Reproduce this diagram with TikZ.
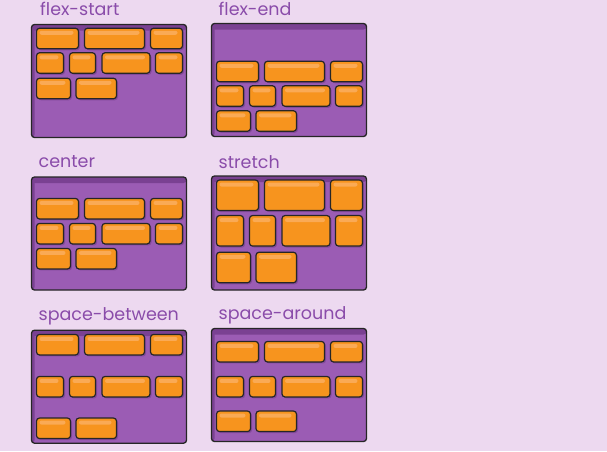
\documentclass[tikz,border=0pt]{standalone}
\usepackage{fontspec}
\setmainfont{Poppins}
\usetikzlibrary{shadows}
\definecolor{bgcol}{HTML}{EDD9F0}
\definecolor{boxcol}{HTML}{9B5CB4}
\definecolor{boxedge}{HTML}{7A4192}
\definecolor{itemcol}{HTML}{F7941E}
\definecolor{itemlight}{HTML}{FAAA55}
\definecolor{inkcol}{HTML}{262626}
\definecolor{labelcol}{HTML}{8A4CAA}
\tikzset{
	boxstyle/.style={rectangle,rounded corners=3pt,draw=inkcol,line width=1.3pt,fill=boxcol,inner sep=0pt,minimum width=155pt,minimum height=113pt,
		path picture={\fill[boxedge] (path picture bounding box.north west) rectangle ([yshift=-6pt]path picture bounding box.north east);
			\fill[boxedge] (path picture bounding box.north west) rectangle ([xshift=3pt]path picture bounding box.south west);}},
	itemstyle/.style={rectangle,rounded corners=3pt,draw=inkcol,line width=1.2pt,fill=itemcol,inner sep=0pt,minimum height=20.5pt,
		drop shadow={shadow xshift=1.5pt,shadow yshift=-1.5pt,fill=boxedge,opacity=0.7},
		path picture={\fill[itemlight,rounded corners=2pt] ([xshift=3pt,yshift=-2.5pt]path picture bounding box.north west) rectangle ([xshift=-5pt,yshift=-6.5pt]path picture bounding box.north east);}},
	tallstyle/.style={itemstyle,minimum height=30.5pt},
	labelstyle/.style={anchor=base west,text=labelcol,inner sep=0pt,font=\fontsize{17.5}{20}\selectfont}
}
\begin{document}
\begin{tikzpicture}[x=1pt,y=-1pt]
	\useasboundingbox (0,0) rectangle (607,451);
	\fill[bgcol] (0,0) rectangle (607,451);
	% flex-start
	\node[labelstyle] (fslabel) at (40,15) {flex-start};
	\node[boxstyle] (fs) at (109,81) {};
	\node[itemstyle,minimum width=42pt] (fs1) at (57.5,38.5) {};
	\node[itemstyle,minimum width=60pt] (fs2) at (114.5,38.5) {};
	\node[itemstyle,minimum width=32pt] (fs3) at (166.5,38.5) {};
	\node[itemstyle,minimum width=27pt] (fs4) at (50,63) {};
	\node[itemstyle,minimum width=26pt] (fs5) at (82.5,63) {};
	\node[itemstyle,minimum width=48pt] (fs6) at (126,63) {};
	\node[itemstyle,minimum width=27pt] (fs7) at (169,63) {};
	\node[itemstyle,minimum width=34pt] (fs8) at (53.5,88.5) {};
	\node[itemstyle,minimum width=40.5pt] (fs9) at (96.25,88.5) {};
	% flex-end
	\node[labelstyle] (felabel) at (218.5,15) {flex-end};
	\node[boxstyle] (fe) at (289,80) {};
	\node[itemstyle,minimum width=42pt] (fe1) at (237.5,71.5) {};
	\node[itemstyle,minimum width=60pt] (fe2) at (294.5,71.5) {};
	\node[itemstyle,minimum width=32pt] (fe3) at (346.5,71.5) {};
	\node[itemstyle,minimum width=27pt] (fe4) at (230,96) {};
	\node[itemstyle,minimum width=26pt] (fe5) at (262.5,96) {};
	\node[itemstyle,minimum width=48pt] (fe6) at (306,96) {};
	\node[itemstyle,minimum width=27pt] (fe7) at (349,96) {};
	\node[itemstyle,minimum width=34pt] (fe8) at (233.5,121) {};
	\node[itemstyle,minimum width=40.5pt] (fe9) at (276.25,121) {};
	% center
	\node[labelstyle] (celabel) at (38.5,167.5) {center};
	\node[boxstyle] (ce) at (109,233.5) {};
	\node[itemstyle,minimum width=42pt] (ce1) at (57.5,208.7) {};
	\node[itemstyle,minimum width=60pt] (ce2) at (114.5,208.7) {};
	\node[itemstyle,minimum width=32pt] (ce3) at (166.5,208.7) {};
	\node[itemstyle,minimum width=27pt] (ce4) at (50,233.7) {};
	\node[itemstyle,minimum width=26pt] (ce5) at (82.5,233.7) {};
	\node[itemstyle,minimum width=48pt] (ce6) at (126,233.7) {};
	\node[itemstyle,minimum width=27pt] (ce7) at (169,233.7) {};
	\node[itemstyle,minimum width=34pt] (ce8) at (53.5,258.7) {};
	\node[itemstyle,minimum width=40.5pt] (ce9) at (96.25,258.7) {};
	% stretch
	\node[labelstyle] (stlabel) at (218.5,168) {stretch};
	\node[boxstyle,minimum height=114pt] (st) at (289,233) {};
	\node[tallstyle,minimum width=42pt] (st1) at (237.5,195.3) {};
	\node[tallstyle,minimum width=60pt] (st2) at (294.5,195.3) {};
	\node[tallstyle,minimum width=32pt] (st3) at (346.5,195.3) {};
	\node[tallstyle,minimum width=27pt] (st4) at (230,230.8) {};
	\node[tallstyle,minimum width=26pt] (st5) at (262.5,230.8) {};
	\node[tallstyle,minimum width=48pt] (st6) at (306,230.8) {};
	\node[tallstyle,minimum width=27pt] (st7) at (349,230.8) {};
	\node[tallstyle,minimum width=34pt] (st8) at (233.5,267.5) {};
	\node[tallstyle,minimum width=40.5pt] (st9) at (276.25,267.5) {};
	% space-between
	\node[labelstyle] (sblabel) at (38.5,320) {space-between};
	\node[boxstyle] (sb) at (109,386.7) {};
	\node[itemstyle,minimum width=42pt] (sb1) at (57.5,344.7) {};
	\node[itemstyle,minimum width=60pt] (sb2) at (114.5,344.7) {};
	\node[itemstyle,minimum width=32pt] (sb3) at (166.5,344.7) {};
	\node[itemstyle,minimum width=27pt] (sb4) at (50,386.7) {};
	\node[itemstyle,minimum width=26pt] (sb5) at (82.5,386.7) {};
	\node[itemstyle,minimum width=48pt] (sb6) at (126,386.7) {};
	\node[itemstyle,minimum width=27pt] (sb7) at (169,386.7) {};
	\node[itemstyle,minimum width=34pt] (sb8) at (53.5,428.3) {};
	\node[itemstyle,minimum width=40.5pt] (sb9) at (96.25,428.3) {};
	% space-around
	\node[labelstyle] (salabel) at (218.5,319) {space-around};
	\node[boxstyle] (sa) at (289,385) {};
	\node[itemstyle,minimum width=42pt] (sa1) at (237.5,351.7) {};
	\node[itemstyle,minimum width=60pt] (sa2) at (294.5,351.7) {};
	\node[itemstyle,minimum width=32pt] (sa3) at (346.5,351.7) {};
	\node[itemstyle,minimum width=27pt] (sa4) at (230,386.7) {};
	\node[itemstyle,minimum width=26pt] (sa5) at (262.5,386.7) {};
	\node[itemstyle,minimum width=48pt] (sa6) at (306,386.7) {};
	\node[itemstyle,minimum width=27pt] (sa7) at (349,386.7) {};
	\node[itemstyle,minimum width=34pt] (sa8) at (233.5,421.3) {};
	\node[itemstyle,minimum width=40.5pt] (sa9) at (276.25,421.3) {};
\end{tikzpicture}
\end{document}
